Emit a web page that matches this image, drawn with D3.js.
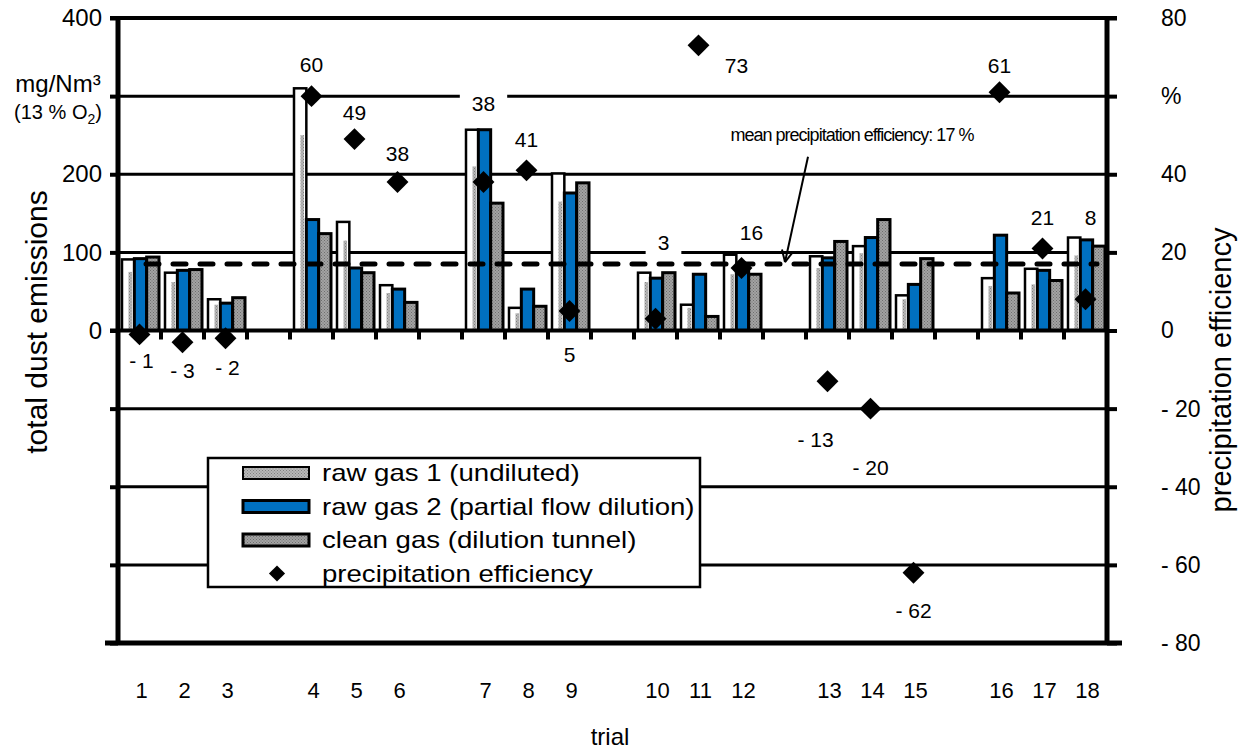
<!DOCTYPE html>
<html>
<head>
<meta charset="utf-8">
<script src="https://cdn.jsdelivr.net/npm/d3@7"></script>
<style>
  body { margin: 0; background: #fff; }
  svg { display: block; font-family: "Liberation Sans", Arial, sans-serif; }
</style>
</head>
<body>
<svg id="chart" width="1246" height="751"></svg>
<script>
// data
var trials = ["1","2","3","4","5","6","7","8","9","10","11","12","13","14","15","16","17","18"];
var slots = ["1","2","3","g1","4","5","6","g2","7","8","9","g3","10","11","12","g4","13","14","15","g5","16","17","18"];
var rawGas1 = [91, 74, 40, 310, 139, 58, 257, 29, 201, 74, 33, 97, 95, 108, 45, 67, 79, 119];
var rawGas1Shade = [75, 62, 33, 250, 115, 48, 210, 22, 165, 62, 29, 72, 80, 99, 40, 57, 59, 96];
var rawGas2 = [92, 77, 35, 142, 80, 53, 257, 53, 176, 67, 72, 80, 93, 119, 59, 122, 77, 116];
var cleanGas = [94, 78, 42, 124, 74, 36, 163, 31, 189, 74, 18, 72, 114, 142, 92, 48, 64, 108];
var efficiency = [-1, -3, -2, 60, 49, 38, 38, 41, 5, 3, 73, 16, -13, -20, -62, 61, 21, 8];
var meanEfficiency = 17;
var seriesNames = ["raw gas 1 (undiluted)", "raw gas 2 (partial flow dilution)", "clean gas (dilution tunnel)", "precipitation efficiency"];
var leftTickLabels = {"400": "400", "200": "200", "100": "100", "0": "0"};
// where the value labels sit (right axis units) and their sideways nudge
var labelAt = [-7.6, -10.4, -9.6, 68, 55.7, 45.4, 58, 48.8, -6.3, 22.4, 67.7, 25, -28, -35, -71.6, 67.7, 28.8, 28.8];
var labelDx = [2, 0, 2, 0, 0, 0, 0, 0, 0, 8, 38, 10, -12, 0, 0, 0, 0, 5];

var svg = d3.select("#chart");
var pL = 118, pR = 1107, pT = 18, pB = 643;

var yL = d3.scaleLinear().domain([-400, 400]).range([pB, pT]);
var yR = d3.scaleLinear().domain([-80, 80]).range([pB, pT]);
var x = d3.scaleBand().domain(slots).range([pL, pR]).padding(0);
var xs = d3.scaleBand().domain(["g1", "g2", "clean"]).range([4, 41]).padding(0);

var defs = svg.append("defs");
function dots(id, bg, fg) {
  var p = defs.append("pattern").attr("id", id).attr("width", 3).attr("height", 3)
    .attr("patternUnits", "userSpaceOnUse");
  p.append("rect").attr("width", 3).attr("height", 3).attr("fill", bg);
  p.append("rect").attr("width", 1).attr("height", 1).attr("fill", fg);
  p.append("rect").attr("x", 1.5).attr("y", 1.5).attr("width", 1).attr("height", 1).attr("fill", fg);
}
dots("dotGray", "#a3a3a3", "#6e6e6e");
dots("dotLight", "#b8b8b8", "#808080");

// gridlines
var gridVals = [300, 200, 100, -100, -200, -300];
svg.append("g").selectAll("line").data(gridVals).join("line")
  .attr("x1", pL).attr("x2", pR)
  .attr("y1", d => yL(d)).attr("y2", d => yL(d))
  .attr("stroke", "#000").attr("stroke-width", 3);

// bars
var bars = svg.append("g");
trials.forEach(function(t, i) {
  var x0 = x(t);
  bars.append("rect").attr("x", x0 + xs("g1")).attr("width", xs.bandwidth())
    .attr("y", yL(rawGas1[i])).attr("height", yL(0) - yL(rawGas1[i]))
    .attr("fill", "#fff").attr("stroke", "#000").attr("stroke-width", 2.5);
  bars.append("rect").attr("x", x0 + xs("g1") + 6.5).attr("width", 3.5)
    .attr("y", yL(rawGas1Shade[i])).attr("height", yL(0) - yL(rawGas1Shade[i]))
    .attr("fill", "url(#dotLight)");
  bars.append("rect").attr("x", x0 + xs("g2")).attr("width", xs.bandwidth())
    .attr("y", yL(rawGas2[i])).attr("height", yL(0) - yL(rawGas2[i]))
    .attr("fill", "#0070c0").attr("stroke", "#000").attr("stroke-width", 3);
  bars.append("rect").attr("x", x0 + xs("clean")).attr("width", xs.bandwidth())
    .attr("y", yL(cleanGas[i])).attr("height", yL(0) - yL(cleanGas[i]))
    .attr("fill", "url(#dotGray)").attr("stroke", "#000").attr("stroke-width", 3);
});

// frame lines
svg.append("line").attr("x1", pL - 8).attr("x2", pR + 10).attr("y1", yL(400)).attr("y2", yL(400))
  .attr("stroke", "#000").attr("stroke-width", 4);
svg.append("line").attr("x1", pL - 13).attr("x2", pR + 15).attr("y1", yL(-400)).attr("y2", yL(-400))
  .attr("stroke", "#000").attr("stroke-width", 5);
svg.append("line").attr("x1", pL - 8).attr("x2", pR).attr("y1", yL(0)).attr("y2", yL(0))
  .attr("stroke", "#000").attr("stroke-width", 4);

// category ticks under the zero line
svg.append("g").selectAll("line").data(slots.slice(1)).join("line")
  .attr("x1", d => x(d)).attr("x2", d => x(d))
  .attr("y1", yL(0)).attr("y2", yL(0) + 9)
  .attr("stroke", "#000").attr("stroke-width", 4);

// left axis
var axL = svg.append("g").attr("transform", "translate(" + pL + ",0)")
  .call(d3.axisLeft(yL).tickValues(d3.range(-400, 401, 100)).tickSize(8).tickPadding(8)
    .tickFormat(d => leftTickLabels[d] || ""));
axL.select(".domain").remove();
axL.selectAll(".tick line").attr("stroke-width", 4);
axL.selectAll(".tick text").attr("font-size", 24).attr("font-family", "Liberation Sans, Arial").attr("fill", "#000");
svg.append("line").attr("x1", pL).attr("x2", pL).attr("y1", pT - 2).attr("y2", pB + 2)
  .attr("stroke", "#000").attr("stroke-width", 5);

// right axis
var axR = svg.append("g").attr("transform", "translate(" + pR + ",0)")
  .call(d3.axisRight(yR).tickValues(d3.range(-80, 81, 20)).tickSize(10).tickPadding(44)
    .tickFormat(d => d == 60 ? "%" : (d < 0 ? "- " + (-d) : d)));
axR.select(".domain").remove();
axR.selectAll(".tick line").attr("stroke-width", 4);
axR.selectAll(".tick text").attr("font-size", 23).attr("font-family", "Liberation Sans, Arial").attr("fill", "#000");
svg.append("line").attr("x1", pR).attr("x2", pR).attr("y1", pT - 2).attr("y2", pB + 2)
  .attr("stroke", "#000").attr("stroke-width", 5);

// unit label sitting on the 300 tick
svg.append("text").attr("x", 58).attr("y", yL(300) - 4).attr("text-anchor", "middle")
  .attr("font-size", 24).text("mg/Nm³");
var unit2 = svg.append("text").attr("x", 58).attr("y", yL(300) + 23).attr("text-anchor", "middle")
  .attr("font-size", 20);
unit2.append("tspan").text("(13 % O");
unit2.append("tspan").attr("font-size", 14).attr("dy", 5).text("2");
unit2.append("tspan").attr("dy", -5).text(")");

// mean line
svg.append("line").attr("x1", pL + 28).attr("x2", pR - 10)
  .attr("y1", yR(meanEfficiency)).attr("y2", yR(meanEfficiency))
  .attr("stroke", "#000").attr("stroke-width", 5).attr("stroke-linecap", "round")
  .attr("stroke-dasharray", "13 14");

// diamonds
svg.append("g").selectAll("path").data(efficiency).join("path")
  .attr("d", d3.symbol(d3.symbolSquare, 240))
  .attr("transform", (d, i) => "translate(" + (x(trials[i]) + x.bandwidth() / 2) + "," + yR(d) + ") rotate(45)")
  .attr("fill", "#000");

// value labels (white box where a gridline runs through)
var lab = svg.append("g");
var lines = gridVals.map(v => yL(v));
efficiency.forEach(function(v, i) {
  var t = lab.append("text")
    .attr("x", x(trials[i]) + x.bandwidth() / 2 + labelDx[i])
    .attr("y", yR(labelAt[i])).attr("dy", "0.35em").attr("text-anchor", "middle")
    .attr("font-size", 21).text(v < 0 ? "- " + (-v) : v);
  var b = t.node().getBBox();
  if (lines.some(ly => ly > b.y - 3 && ly < b.y + b.height + 3)) {
    lab.insert("rect", "text").attr("x", b.x - 12).attr("y", b.y - 2)
      .attr("width", b.width + 24).attr("height", b.height + 4).attr("fill", "#fff");
  }
});

// mean annotation
var mx = x("12") + x.bandwidth() + 22;
svg.append("text").attr("x", 852).attr("y", yR(50)).attr("dy", "0.35em").attr("text-anchor", "middle")
  .attr("font-size", 18).attr("letter-spacing", -1).text("mean precipitation efficiency: 17 %");
svg.append("line").attr("x1", 808).attr("y1", yR(44.5)).attr("x2", mx).attr("y2", yR(meanEfficiency) - 2)
  .attr("stroke", "#000").attr("stroke-width", 2);
var ang = Math.atan2(yR(meanEfficiency) - 2 - yR(44.5), mx - 808);
[-0.45, 0.45].forEach(function(a) {
  svg.append("line").attr("x1", mx).attr("y1", yR(meanEfficiency) - 2)
    .attr("x2", mx - 13 * Math.cos(ang + a)).attr("y2", yR(meanEfficiency) - 2 - 13 * Math.sin(ang + a))
    .attr("stroke", "#000").attr("stroke-width", 2);
});

// category labels
svg.append("g").selectAll("text").data(trials).join("text")
  .attr("x", d => x(d) + x.bandwidth() / 2 + 2).attr("y", 690).attr("dy", "0.35em")
  .attr("text-anchor", "middle").attr("font-size", 22).text(d => d);

// titles
svg.append("text").attr("x", 610).attr("y", 737).attr("dy", "0.35em").attr("text-anchor", "middle")
  .attr("font-size", 24).text("trial");
svg.append("text").attr("transform", "translate(36,322) rotate(-90)").attr("dy", "0.35em")
  .attr("text-anchor", "middle").attr("font-size", 30).text("total dust emissions");
svg.append("text").attr("transform", "translate(1221,370) rotate(-90)").attr("dy", "0.35em")
  .attr("text-anchor", "middle").attr("font-size", 29).text("precipitation efficiency");

// legend
var lg = svg.append("g").attr("transform", "translate(208,458)");
lg.append("rect").attr("width", 492).attr("height", 129).attr("fill", "#fff")
  .attr("stroke", "#000").attr("stroke-width", 2.5);
var swFill = ["url(#dotLight)", "#0070c0", "url(#dotGray)"];
seriesNames.forEach(function(n, i) {
  var cy = 15 + i * 33.5;
  if (i < 3) {
    lg.append("rect").attr("x", 35).attr("y", cy - 6).attr("width", 66).attr("height", 12)
      .attr("fill", swFill[i]).attr("stroke", "#000").attr("stroke-width", i == 0 ? 2 : 3);
  } else {
    lg.append("path").attr("d", d3.symbol(d3.symbolSquare, 130))
      .attr("transform", "translate(69," + cy + ") rotate(45)").attr("fill", "#000");
  }
  lg.append("text").attr("transform", "translate(114," + cy + ") scale(1.2,1)").attr("dy", "0.35em")
    .attr("font-size", 23).text(n);
});
</script>
</body>
</html>
